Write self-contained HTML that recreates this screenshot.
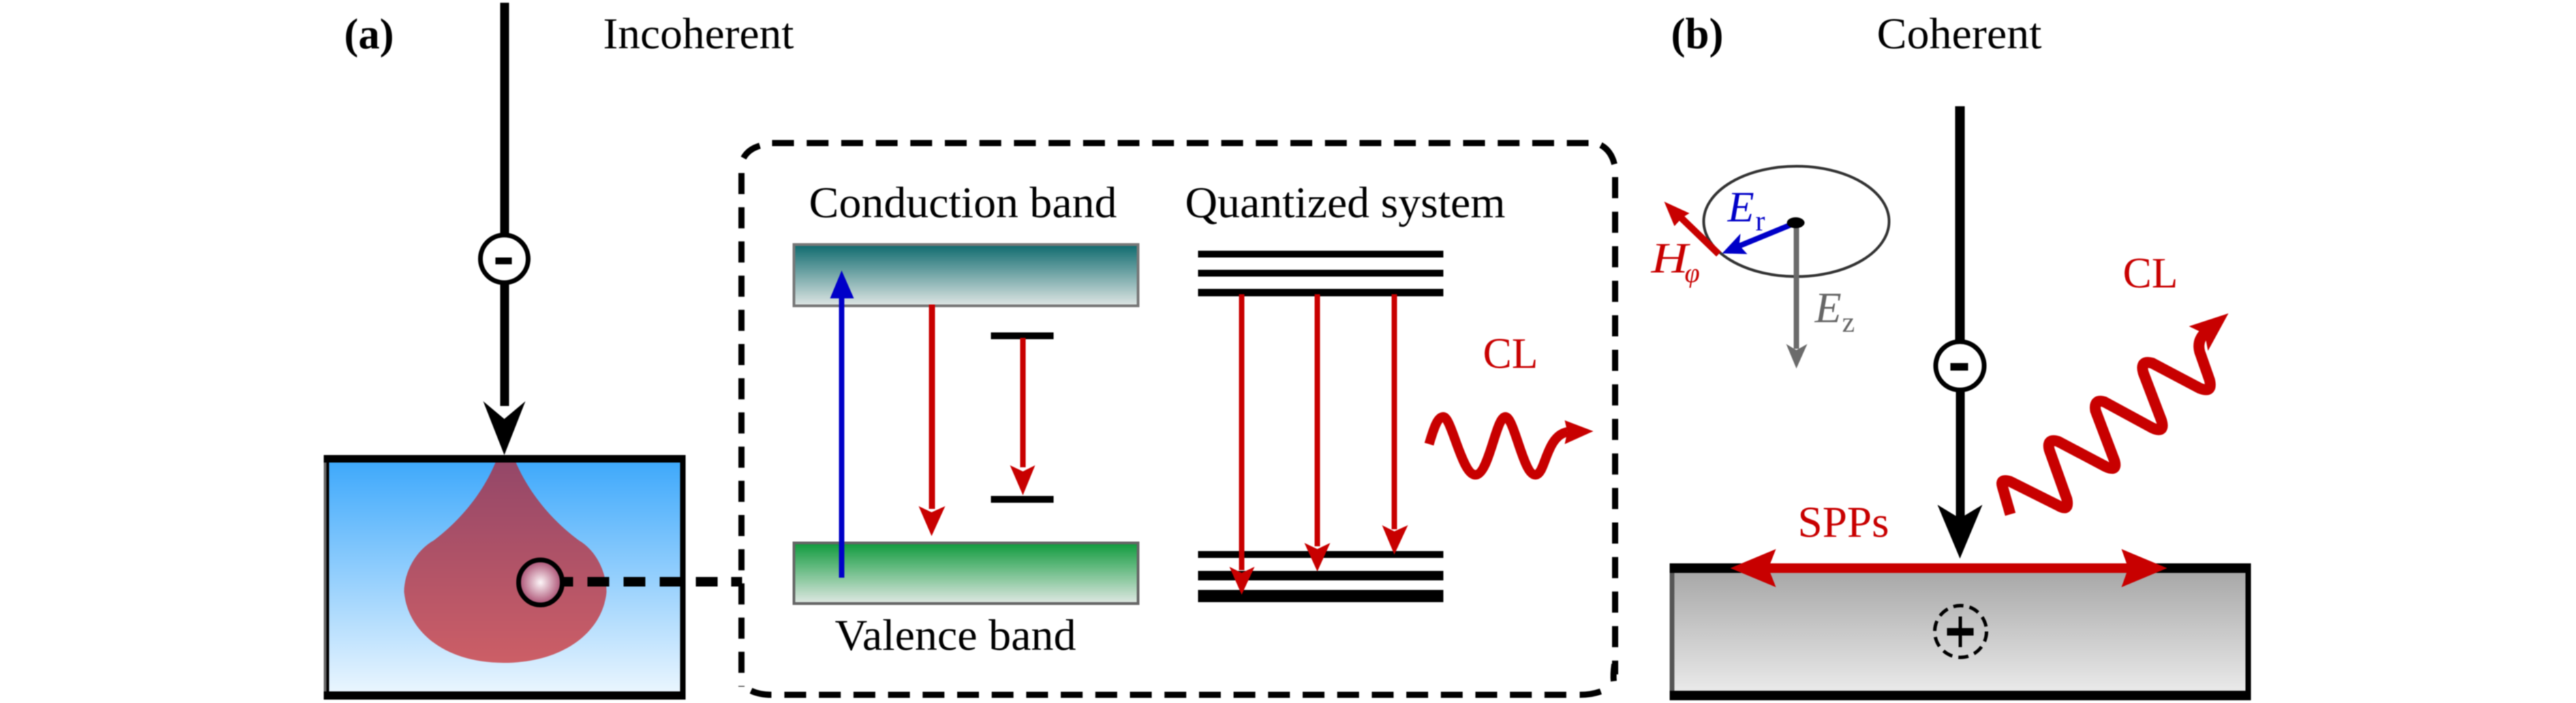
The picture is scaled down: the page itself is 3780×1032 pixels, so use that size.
<!DOCTYPE html>
<html>
<head>
<meta charset="utf-8">
<style>
html,body{margin:0;padding:0;background:#fff;width:3780px;height:1032px;overflow:hidden}
svg{display:block;filter:blur(0.8px)}
text{font-family:"Liberation Serif",serif}
</style>
</head>
<body>
<svg xmlns="http://www.w3.org/2000/svg" width="3780" height="1032" viewBox="0 0 3780 1032">
<defs>
<linearGradient id="gBlue" x1="0" y1="0" x2="0" y2="1"><stop offset="0" stop-color="#3fa9fb"/><stop offset="1" stop-color="#e9f5fe"/></linearGradient>
<linearGradient id="gDrop" x1="0" y1="0" x2="0" y2="1"><stop offset="0" stop-color="#944768"/><stop offset="1" stop-color="#cc5e66"/></linearGradient>
<radialGradient id="gBall"><stop offset="0" stop-color="#fdf6f8"/><stop offset="1" stop-color="#a84a6e"/></radialGradient>
<linearGradient id="gCond" x1="0" y1="0" x2="0" y2="1"><stop offset="0" stop-color="#0e6a6e"/><stop offset="1" stop-color="#dfe6e4"/></linearGradient>
<linearGradient id="gVal" x1="0" y1="0" x2="0" y2="1"><stop offset="0" stop-color="#0f9a3c"/><stop offset="1" stop-color="#e0e8e3"/></linearGradient>
<linearGradient id="gMetal" x1="0" y1="0" x2="0" y2="1"><stop offset="0" stop-color="#a8a8a8"/><stop offset="1" stop-color="#e9e9e9"/></linearGradient>
</defs>

<!-- Panel (a) labels -->
<text x="505" y="71" font-size="63" font-weight="bold" textLength="73" lengthAdjust="spacingAndGlyphs">(a)</text>
<text x="885" y="71" font-size="65" textLength="280" lengthAdjust="spacingAndGlyphs">Incoherent</text>

<!-- Electron beam (a) -->
<rect x="734" y="4" width="13" height="340" fill="#000"/>
<rect x="734" y="416" width="13" height="180" fill="#000"/>
<circle cx="740" cy="380" r="35" fill="#fff" stroke="#000" stroke-width="7"/>
<rect x="727" y="378" width="24" height="10" fill="#000"/>
<polygon points="709,589 740,615 771,589 740,668" fill="#000"/>

<!-- Sample box (a) -->
<rect x="475" y="668" width="531" height="359" fill="#000"/>
<rect x="475" y="679" width="4" height="336" fill="#666"/>
<rect x="483" y="679" width="515" height="336" fill="url(#gBlue)"/>
<path d="M727 679 L757 679 C775 720 805 760 849 793 C875 808 890 840 890 869 C885 925 830 973 739 973 C650 973 598 925 593 869 C593 840 610 808 637 793 C680 760 710 720 727 679 Z" fill="url(#gDrop)"/>
<ellipse cx="793" cy="855" rx="32" ry="33" fill="url(#gBall)" stroke="#000" stroke-width="7"/>
<g fill="#000">
<rect x="826" y="847" width="15" height="14"/>
<rect x="862" y="847" width="32" height="14"/>
<rect x="915" y="847" width="32" height="14"/>
<rect x="968" y="847" width="32" height="14"/>
<rect x="1021" y="847" width="32" height="14"/>
<rect x="1073" y="847" width="16" height="14"/>
</g>

<!-- Dashed rounded frame -->
<g fill="none" stroke="#000" stroke-width="9">
<path d="M1133 210 H2331" stroke-dasharray="32 18.7"/>
<path d="M1151 1020 H2300" stroke-dasharray="32 18.7"/>
<path d="M1088 254 V1008" stroke-dasharray="31 19.2"/>
<path d="M2370 260 V990" stroke-dasharray="31 19.7"/>
<path d="M1091 232 Q1098 219 1115 214"/>
<path d="M2349 213 Q2364 221 2369 241"/>
<path d="M1102 1014 Q1115 1020 1132 1020"/>
<path d="M2318 1020 Q2335 1020 2349 1015"/>
<path d="M2368 1000 Q2367 990 2369 975" />
</g>

<!-- Band diagram -->
<text x="1187" y="319" font-size="65" textLength="452" lengthAdjust="spacingAndGlyphs">Conduction band</text>
<text x="1225" y="954" font-size="65" textLength="354" lengthAdjust="spacingAndGlyphs">Valence band</text>
<rect x="1165" y="359" width="505" height="90" fill="url(#gCond)" stroke="#777" stroke-width="4"/>
<rect x="1165" y="797" width="505" height="89" fill="url(#gVal)" stroke="#666" stroke-width="4"/>
<rect x="1231" y="430" width="8" height="418" fill="#0000c8"/>
<polygon points="1235,397 1253,438 1218,438" fill="#0000c8"/>
<rect x="1363" y="447" width="9" height="300" fill="#c80000"/>
<polygon points="1348,743 1367,752 1387,743 1367,787" fill="#c80000"/>
<rect x="1454" y="488" width="92" height="10" fill="#000"/>
<rect x="1454" y="728" width="92" height="10" fill="#000"/>
<rect x="1497" y="496" width="8" height="190" fill="#c80000"/>
<polygon points="1482,683 1501,692 1519,683 1501,727" fill="#c80000"/>

<!-- Quantized system -->
<text x="1739" y="319" font-size="65" textLength="470" lengthAdjust="spacingAndGlyphs">Quantized system</text>
<g fill="#000">
<rect x="1758" y="368" width="360" height="10"/>
<rect x="1758" y="396" width="360" height="10"/>
<rect x="1758" y="424" width="360" height="11"/>
<rect x="1758" y="809" width="360" height="10"/>
<rect x="1758" y="838" width="360" height="14"/>
<rect x="1758" y="866" width="360" height="18"/>
</g>
<g fill="#c80000">
<rect x="1818" y="432" width="8" height="405"/>
<polygon points="1804,832 1822,841 1841,832 1822,873"/>
<rect x="1929" y="432" width="8" height="370"/>
<polygon points="1914,797 1933,806 1952,797 1933,839"/>
<rect x="2042" y="432" width="8" height="345"/>
<polygon points="2028,771 2046,780 2066,771 2046,814"/>
</g>
<text x="2176" y="540" font-size="64" fill="#c80000" textLength="81" lengthAdjust="spacingAndGlyphs">CL</text>
<path d="M2097 652 C2105 625 2110 612 2118 612 C2130 612 2145 697 2165 697 C2185 697 2195 612 2209 612 C2222 612 2235 697 2253 697 C2268 697 2268 640 2300 634" fill="none" stroke="#c80000" stroke-width="14"/>
<polygon points="2338,633 2296,617 2300,634 2296,652" fill="#c80000"/>

<!-- Panel (b) labels -->
<text x="2452" y="71" font-size="65" font-weight="bold" textLength="77" lengthAdjust="spacingAndGlyphs">(b)</text>
<text x="2754" y="71" font-size="65" textLength="242" lengthAdjust="spacingAndGlyphs">Coherent</text>

<!-- Field sketch -->
<ellipse cx="2636" cy="325" rx="136" ry="81" fill="none" stroke="#333" stroke-width="4"/>
<rect x="2632" y="327" width="8" height="185" fill="#6b6b6b"/>
<polygon points="2621,505 2636,514 2652,505 2636,541" fill="#6b6b6b"/>
<line x1="2635" y1="327" x2="2545" y2="364" stroke="#0000c8" stroke-width="8"/>
<polygon points="2527,372 2554,343 2552,360 2564,373" fill="#0000c8"/>
<line x1="2522" y1="373" x2="2462" y2="315" stroke="#c80000" stroke-width="10"/>
<polygon points="2442,296 2479,313 2468,320 2457,332" fill="#c80000"/>
<ellipse cx="2635" cy="327" rx="13" ry="8" fill="#000"/>
<text x="2535" y="325" font-size="64" font-style="italic" fill="#0000c8">E</text>
<text x="2576" y="338" font-size="42" fill="#0000c8">r</text>
<text x="2423" y="400" font-size="64" font-style="italic" fill="#c80000" textLength="54" lengthAdjust="spacingAndGlyphs">H</text>
<text x="2472" y="414" font-size="40" font-style="italic" fill="#c80000">φ</text>
<text x="2663" y="473" font-size="64" font-style="italic" fill="#666">E</text>
<text x="2703" y="487" font-size="42" fill="#666">z</text>

<!-- Electron beam (b) -->
<rect x="2869" y="156" width="14" height="345" fill="#000"/>
<rect x="2870" y="572" width="13" height="192" fill="#000"/>
<circle cx="2876" cy="537" r="35.5" fill="#fff" stroke="#000" stroke-width="7"/>
<rect x="2862" y="533" width="26" height="11" fill="#000"/>
<polygon points="2843,741 2876,761 2909,741 2876,820" fill="#000"/>

<!-- Metal -->
<rect x="2450" y="827" width="853" height="201" fill="#000"/>
<rect x="2450" y="841" width="7" height="173" fill="#555"/>
<rect x="2457" y="841" width="838" height="173" fill="url(#gMetal)"/>
<rect x="2590" y="827" width="540" height="14" fill="#c80000"/>
<polygon points="2539,834 2606,806 2595,834 2606,862" fill="#c80000"/>
<polygon points="3180,834 3113,806 3123,834 3113,862" fill="#c80000"/>
<text x="2638" y="788" font-size="65" fill="#c80000" textLength="134" lengthAdjust="spacingAndGlyphs">SPPs</text>
<circle cx="2877" cy="927" r="38" fill="none" stroke="#000" stroke-width="5" stroke-dasharray="15 9"/>
<rect x="2857" y="922" width="39" height="11" fill="#000"/>
<rect x="2874" y="905" width="5" height="45" fill="#000"/>

<!-- CL wave (b) -->
<path d="M2950 755 L2938 713 Q2935 702 2950 707 L3020 742 Q3037 752 3033 733 L3007 660 Q3003 643 3020 648 L3090 685 Q3107 693 3103 677 L3075 603 Q3072 585 3088 590 L3158 628 Q3177 637 3172 618 L3145 547 Q3140 528 3158 533 L3228 570 Q3248 578 3242 557 L3228 517 Q3223 500 3237 487" fill="none" stroke="#c80000" stroke-width="16" stroke-linejoin="round"/>
<polygon points="3270,460 3212,479 3235,490 3240,515" fill="#c80000"/>
<text x="3115" y="422" font-size="64" fill="#c80000" textLength="81" lengthAdjust="spacingAndGlyphs">CL</text>
</svg>
</body>
</html>
